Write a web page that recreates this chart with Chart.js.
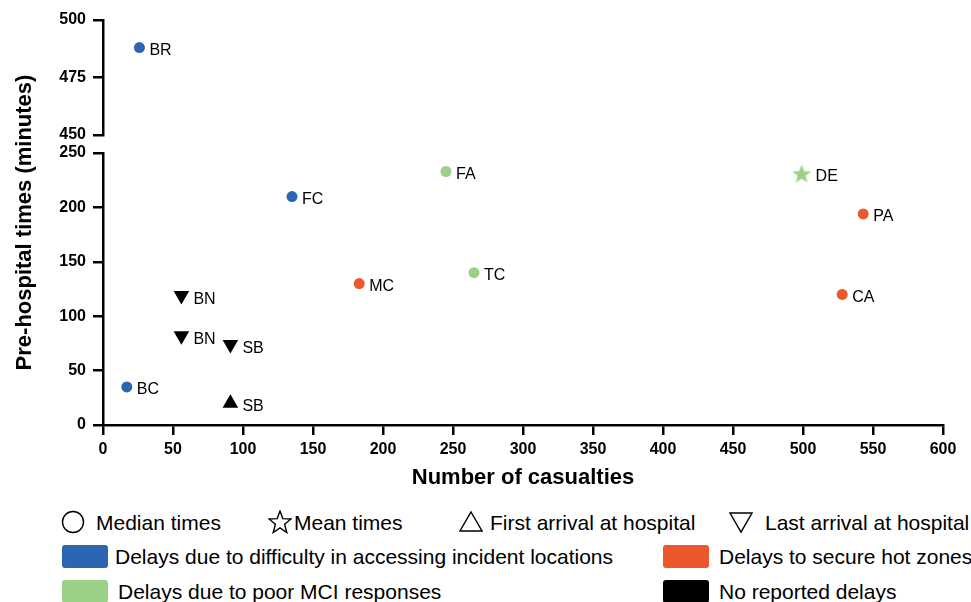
<!DOCTYPE html>
<html>
<head>
<meta charset="utf-8">
<title>Pre-hospital times vs number of casualties</title>
<script src="https://cdn.jsdelivr.net/npm/chart.js@4.4.0/dist/chart.umd.min.js"></script>
<style>
  body { margin: 0; background: #fff; font-family: "Liberation Sans", Arial, sans-serif; }
  #wrap { position: relative; width: 971px; height: 602px; overflow: hidden; }
  #chart { position: absolute; left: 0; top: 0; }
  .lg-text { position: absolute; font-size: 21px; color: #000; line-height: 1; white-space: nowrap; }
  .lg-swatch { position: absolute; width: 46px; height: 23px; border-radius: 3px; }
  .lg-icon { position: absolute; }
</style>
</head>
<body>
<div id="wrap">
  <canvas id="chart" width="971" height="500"></canvas>
  <div id="legend"></div>
</div>
<script>
// Data
const pointNames = ["BR", "BC", "FC", "BN", "BN", "SB", "SB", "MC", "PA", "CA", "FA", "TC", "DE"];
const casualties = [26, 17, 135, 56, 56, 91, 91, 183, 543, 528, 245, 265, 499];
const preHospitalTimes = [488, 35, 210, 119, 82, 74, 20, 130, 194, 120, 233, 140, 231];
const delayGroups = ["access", "access", "access", "none", "none", "none", "none",
                     "secure", "secure", "secure", "poor", "poor", "poor"];
const timeTypes = ["median", "median", "median", "last", "last", "last", "first",
                   "median", "median", "median", "median", "median", "mean"];

const xTicks = [0, 600, 50];          // min, max, step
const yLowTicks = [0, 250, 50];
const yHighTicks = [450, 500, 25];

const markerLabels = ["Median times", "Mean times", "First arrival at hospital", "Last arrival at hospital"];
const delayLabels = ["Delays due to difficulty in accessing incident locations", "Delays to secure hot zones",
                     "Delays due to poor MCI responses", "No reported delays"];

const groupColors = { access: "#2a66b1", secure: "#ea582c", poor: "#9bd088", none: "#000000" };

// star marker (Chart.js "star" is only strokes, so draw a filled one)
function makeStar(color, size) {
  const c = document.createElement("canvas");
  c.width = size; c.height = size;
  const g = c.getContext("2d");
  const cx = size / 2, cy = size / 2 + 0.8, ro = size / 2, ri = ro * 0.42;
  g.beginPath();
  for (let i = 0; i < 10; i++) {
    const r = i % 2 ? ri : ro;
    const a = -Math.PI / 2 + i * Math.PI / 5;
    g.lineTo(cx + r * Math.cos(a), cy + r * Math.sin(a));
  }
  g.closePath();
  g.fillStyle = color;
  g.fill();
  return c;
}
const starImg = makeStar(groupColors.poor, 20);

// build points
const allPoints = pointNames.map((name, i) => ({
  x: casualties[i], y: preHospitalTimes[i], name: name, group: delayGroups[i], kind: timeTypes[i]
}));
const lowPoints = allPoints.filter(p => p.y <= yLowTicks[1]);
const highPoints = allPoints.filter(p => p.y >= yHighTicks[0]);

function markerStyle(ctx) {
  if (!ctx.raw) return "circle";
  if (ctx.raw.kind === "mean") return starImg;
  if (ctx.raw.kind === "first" || ctx.raw.kind === "last") return "triangle";
  return "circle";
}
function markerColor(ctx) {
  return ctx.raw ? groupColors[ctx.raw.group] : "#000";
}
function markerRadius(ctx) {
  if (!ctx.raw) return 5;
  return ctx.raw.kind === "median" ? 5.5 : 9;
}
function markerRotation(ctx) {
  return ctx.raw && ctx.raw.kind === "last" ? 180 : 0;
}

const datasetBase = {
  pointStyle: markerStyle,
  backgroundColor: markerColor,
  borderColor: markerColor,
  borderWidth: 0,
  pointRadius: markerRadius,
  rotation: markerRotation
};

// text next to each point
const pointLabels = {
  id: "pointLabels",
  afterDatasetsDraw(chart) {
    const ctx = chart.ctx;
    ctx.save();
    ctx.font = '16px "Liberation Sans", Arial, sans-serif';
    ctx.fillStyle = "#000";
    ctx.textBaseline = "middle";
    chart.data.datasets.forEach((ds, i) => {
      chart.getDatasetMeta(i).data.forEach((el, j) => {
        const p = ds.data[j];
        const dx = p.kind === "median" ? 10 : p.kind === "mean" ? 14 : 12;
        const dy = p.kind === "last" ? 4 : 3;
        ctx.fillText(p.name, el.x + dx, el.y + dy);
      });
    });
    ctx.restore();
  }
};

// y title centred on the whole broken axis
const yTitle = {
  id: "yTitle",
  afterDraw(chart) {
    const ctx = chart.ctx;
    const a = chart.chartArea;
    ctx.save();
    ctx.translate(25, (a.top + a.bottom) / 2);
    ctx.rotate(-Math.PI / 2);
    ctx.font = 'bold 22px "Liberation Sans", Arial, sans-serif';
    ctx.fillStyle = "#000";
    ctx.textAlign = "center";
    ctx.textBaseline = "middle";
    ctx.fillText("Pre-hospital times (minutes)", 0, 0);
    ctx.restore();
  }
};

Chart.defaults.font.family = '"Liberation Sans", Arial, sans-serif';
Chart.defaults.color = "#000";

const tickFont = { size: 16, weight: "bold" };
const xTickOpts = { font: tickFont, color: "#000", padding: 5 };
const yTickOpts = { font: tickFont, color: "#000", padding: 7 };
const axisGrid = { display: true, drawOnChartArea: false, drawTicks: true, tickLength: 10, color: "#000", lineWidth: 2.5 };
const axisBorder = { display: true, color: "#000", width: 2.5 };
const fixWidth = s => { s.width = 103; };

new Chart(document.getElementById("chart"), {
  type: "scatter",
  data: {
    datasets: [
      Object.assign({ data: lowPoints, yAxisID: "yLow" }, datasetBase),
      Object.assign({ data: highPoints, yAxisID: "yHigh" }, datasetBase)
    ]
  },
  options: {
    responsive: false,
    animation: false,
    layout: { padding: { top: 20, right: 28, left: 0, bottom: 0 } },
    plugins: { legend: { display: false }, tooltip: { enabled: false } },
    scales: {
      x: {
        type: "linear", position: "bottom",
        min: xTicks[0], max: xTicks[1],
        ticks: Object.assign({ stepSize: xTicks[2] }, xTickOpts),
        grid: axisGrid, border: axisBorder,
        title: { display: true, text: "Number of casualties", font: { size: 22, weight: "bold" }, color: "#000",
                 padding: { top: 0, bottom: 9 } },
        afterFit: s => { s.height = 75; }
      },
      yLow: {
        type: "linear", position: "left", stack: "y", stackWeight: 272,
        min: yLowTicks[0], max: yLowTicks[1],
        ticks: Object.assign({ stepSize: yLowTicks[2] }, yTickOpts),
        grid: axisGrid, border: axisBorder, afterFit: fixWidth
      },
      yGap: {
        type: "linear", position: "left", stack: "y", stackWeight: 18,
        min: 0, max: 1,
        ticks: { display: false }, grid: { display: false }, border: { display: false },
        afterFit: fixWidth
      },
      yHigh: {
        type: "linear", position: "left", stack: "y", stackWeight: 115,
        min: yHighTicks[0], max: yHighTicks[1],
        ticks: Object.assign({ stepSize: yHighTicks[2] }, yTickOpts),
        grid: axisGrid, border: axisBorder, afterFit: fixWidth
      }
    }
  },
  plugins: [pointLabels, yTitle]
});

// legend below the chart
const legend = document.getElementById("legend");
const markerIcons = [
  '<circle cx="12" cy="12" r="10.5" fill="none" stroke="#000" stroke-width="1.4"/>',
  '<polygon points="12,1 14.8,8.6 23,9 16.6,14.2 18.8,22.5 12,17.8 5.2,22.5 7.4,14.2 1,9 9.2,8.6" fill="none" stroke="#000" stroke-width="1.4"/>',
  '<polygon points="12,2 23,21 1,21" fill="none" stroke="#000" stroke-width="1.4"/>',
  '<polygon points="1,3 23,3 12,22" fill="none" stroke="#000" stroke-width="1.4"/>'
];
const markerIconX = [61, 268, 459, 729];
const markerTextX = [96, 294, 490, 765];
markerLabels.forEach((label, i) => {
  legend.insertAdjacentHTML("beforeend",
    `<svg class="lg-icon" width="24" height="24" style="left:${markerIconX[i]}px;top:510px">${markerIcons[i]}</svg>` +
    `<div class="lg-text" style="left:${markerTextX[i]}px;top:512px">${label}</div>`);
});
const delayKeys = ["access", "secure", "poor", "none"];
const swatchPos = [[62, 545], [663, 545], [62, 580], [663, 580]];
const delayTextPos = [[115, 546], [719, 546], [118, 581], [719, 581]];
delayLabels.forEach((label, i) => {
  legend.insertAdjacentHTML("beforeend",
    `<div class="lg-swatch" style="left:${swatchPos[i][0]}px;top:${swatchPos[i][1]}px;background:${groupColors[delayKeys[i]]}"></div>` +
    `<div class="lg-text" style="left:${delayTextPos[i][0]}px;top:${delayTextPos[i][1]}px">${label}</div>`);
});
</script>
</body>
</html>
